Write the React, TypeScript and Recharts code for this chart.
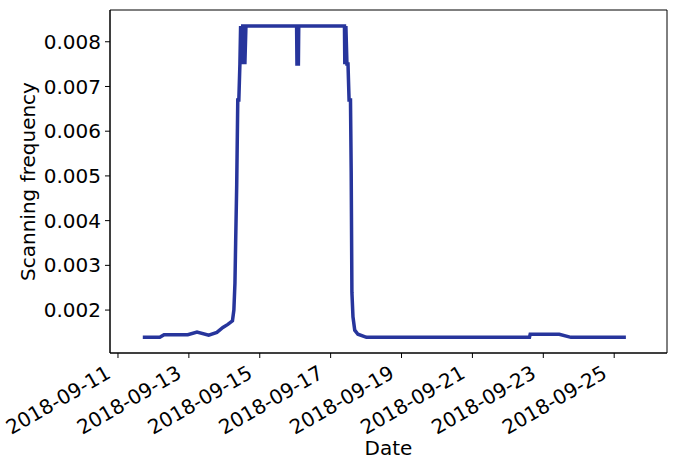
import React from 'react';
import { LineChart, Line, XAxis, YAxis, ReferenceArea } from 'recharts';

// day offsets from 2018-09-11
const days = [
  0.7, 1.18, 1.3, 1.97, 2.23, 2.56, 2.79, 2.96, 3.1, 3.23, 3.27, 3.3, 3.32, 3.35, 3.38, 3.41,
  3.44, 3.46, 3.49, 3.52, 3.56, 3.58, 3.61, 5.04, 5.05, 5.09, 5.1, 6.39, 6.4, 6.43, 6.46,
  6.49, 6.52, 6.56, 6.58, 6.6, 6.63, 6.68, 6.77, 7.01, 11.61, 11.63, 12.45, 12.78, 14.33,
];
const freq = [
  0.00139, 0.00139, 0.00145, 0.00145, 0.00151, 0.00144, 0.0015, 0.00161, 0.00168, 0.00176, 0.002,
  0.0026, 0.0035, 0.0048, 0.0067, 0.0067, 0.0075, 0.00835, 0.0075, 0.00835, 0.00835, 0.0075,
  0.00835, 0.00835, 0.0075, 0.0075, 0.00835, 0.00835, 0.0075, 0.00835, 0.0075, 0.0075, 0.0067,
  0.0067, 0.0051, 0.0024, 0.00185, 0.00155, 0.00146, 0.00139, 0.00139, 0.00146, 0.00146, 0.00139,
  0.00139,
];
const xTicks = [0, 2, 4, 6, 8, 10, 12, 14];
const xTickLabels = [
  '2018-09-11', '2018-09-13', '2018-09-15', '2018-09-17',
  '2018-09-19', '2018-09-21', '2018-09-23', '2018-09-25',
];
const yTicks = [0.002, 0.003, 0.004, 0.005, 0.006, 0.007, 0.008];

const data = days.map((d, i) => ({ d, v: freq[i] }));

const FONT = 'DejaVu Sans, sans-serif';
const FS = 20;

function DateTick(props: any) {
  const { x, y, payload } = props;
  const i = xTicks.indexOf(payload.value);
  return (
    <g transform={`translate(${x},${y})`}>
      <text
        x={-6}
        y={17}
        textAnchor="end"
        transform="rotate(-30, -6, 17)"
        fontFamily={FONT}
        fontSize={FS}
        fill="#000"
      >
        {xTickLabels[i]}
      </text>
    </g>
  );
}

export default function App() {
  return (
    <div style={{ position: 'absolute', left: 0, top: 0, background: '#fff' }}>
      <LineChart width={677} height={465} data={data} margin={{ top: 10, right: 10, left: 0, bottom: 0 }}>
        <XAxis
          dataKey="d"
          type="number"
          domain={[-0.225, 15.49]}
          ticks={xTicks}
          interval={0}
          height={112}
          tickSize={5}
          tickMargin={2}
          stroke="#000"
          tickLine={{ stroke: '#000' }}
          tick={<DateTick />}
          label={{
            content: ({ viewBox }: any) => (
              <text
                x={viewBox.x + viewBox.width / 2}
                y={455}
                textAnchor="middle"
                fontFamily={FONT}
                fontSize={FS}
                fill="#000"
              >
                Date
              </text>
            ),
          }}
        />
        <YAxis
          type="number"
          domain={[0.00104, 0.00871]}
          ticks={yTicks}
          interval={0}
          width={110}
          tickSize={5}
          tickMargin={4}
          stroke="#000"
          tick={{ fontFamily: FONT, fontSize: FS, fill: '#000' }}
          tickFormatter={(v: number) => v.toFixed(3)}
          label={{
            content: ({ viewBox }: any) => {
              const cy = viewBox.y + viewBox.height / 2;
              return (
                <text
                  x={35}
                  y={cy}
                  textAnchor="middle"
                  transform={`rotate(-90, 35, ${cy})`}
                  fontFamily={FONT}
                  fontSize={FS}
                  fill="#000"
                >
                  Scanning frequency
                </text>
              );
            },
          }}
        />
        <ReferenceArea
          x1={-0.225}
          x2={15.49}
          y1={0.00104}
          y2={0.00871}
          fill="none"
          fillOpacity={0}
          stroke="#000"
          strokeWidth={1}
          ifOverflow="visible"
        />
        <Line
          dataKey="v"
          type="linear"
          stroke="#27359c"
          strokeWidth={3.5}
          dot={false}
          isAnimationActive={false}
        />
      </LineChart>
    </div>
  );
}
